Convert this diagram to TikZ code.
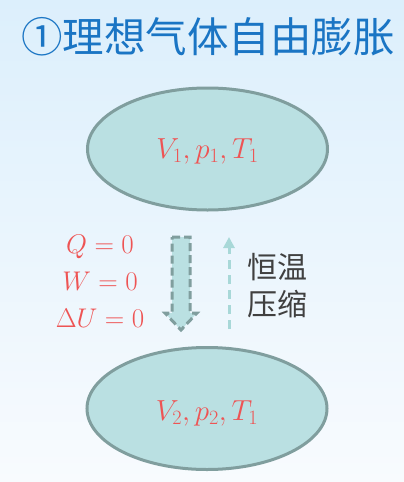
\RequirePackage{fix-cm}
\documentclass[tikz,border=0pt]{standalone}
\usepackage{fontspec}
\newfontfamily\cjk{Noto Sans CJK SC}
\usetikzlibrary{shapes.geometric,arrows.meta}
\definecolor{bgtop}{RGB}{220,239,252}
\definecolor{bgbot}{RGB}{248,251,254}
\definecolor{titleblue}{RGB}{26,117,196}
\definecolor{ellfill}{RGB}{186,224,226}
\definecolor{elldraw}{RGB}{128,158,158}
\definecolor{mathred}{RGB}{238,84,84}
\definecolor{lightarrow}{RGB}{168,216,216}
\definecolor{labelgray}{RGB}{64,64,64}
\tikzset{
  statebox/.style={ellipse, draw=elldraw, fill=ellfill, line width=3pt,
    minimum width=240pt, minimum height=122pt, inner sep=0pt},
  mathlbl/.style={text=mathred, font=\fontsize{29}{33}\selectfont, inner sep=0pt},
  condlbl/.style={text=mathred, font=\fontsize{27}{31}\selectfont, inner sep=0pt, anchor=base},
  blockarrow/.style={draw=elldraw, fill=ellfill, line width=3pt, dash pattern=on 8pt off 4pt, line join=miter},
  thinarrow/.style={draw=lightarrow, line width=3pt, dash pattern=on 9pt off 6pt,
    -{Triangle[length=11pt,width=11pt]}},
}
\begin{document}
\begin{tikzpicture}[x=1pt,y=-1pt]
\shade[top color=bgtop, bottom color=bgbot] (0,0) rectangle (404,482);
\useasboundingbox (0,0) rectangle (404,482);
\node[anchor=base west, inner sep=0pt, text=titleblue, font=\cjk\fontsize{41.5}{45}\selectfont] (title) at (21,52) {①理想气体自由膨胀};
\node[statebox] (s1) at (207.5,149) {};
\node[mathlbl, anchor=base] (t1) at (207.5,158) {$V_1,p_1,T_1$};
\node[statebox] (s2) at (207,408.5) {};
\node[mathlbl, anchor=base] (t2) at (207,420) {$V_2,p_2,T_1$};
\node[condlbl] (q) at (100,253) {$Q=0$};
\node[condlbl] (w) at (100,290) {$W=0$};
\node[condlbl] (u) at (100,327) {$\Delta U=0$};
% block arrow (free expansion)
\coordinate (ba) at (181,237);
\coordinate (bb) at (181,330);
\draw[blockarrow] ([xshift=-9pt]ba) -- ([xshift=9pt]ba) -- ([xshift=9pt,yshift=17pt]bb)
  -- ([xshift=16pt,yshift=17pt]bb) -- (bb) -- ([xshift=-16pt,yshift=17pt]bb)
  -- ([xshift=-9pt,yshift=17pt]bb) -- cycle;
% thin dashed arrow (isothermal compression)
\coordinate (ta) at (229,329);
\coordinate (tb) at (229,237);
\draw[thinarrow] (ta) -- (tb);
\node[anchor=base west, inner sep=0pt, text=labelgray, font=\cjk\fontsize{30}{37}\selectfont, align=left] (iso) at (247,278) {恒温};
\node[anchor=base west, inner sep=0pt, text=labelgray, font=\cjk\fontsize{30}{37}\selectfont, align=left] (comp) at (247,315) {压缩};
\end{tikzpicture}
\end{document}
